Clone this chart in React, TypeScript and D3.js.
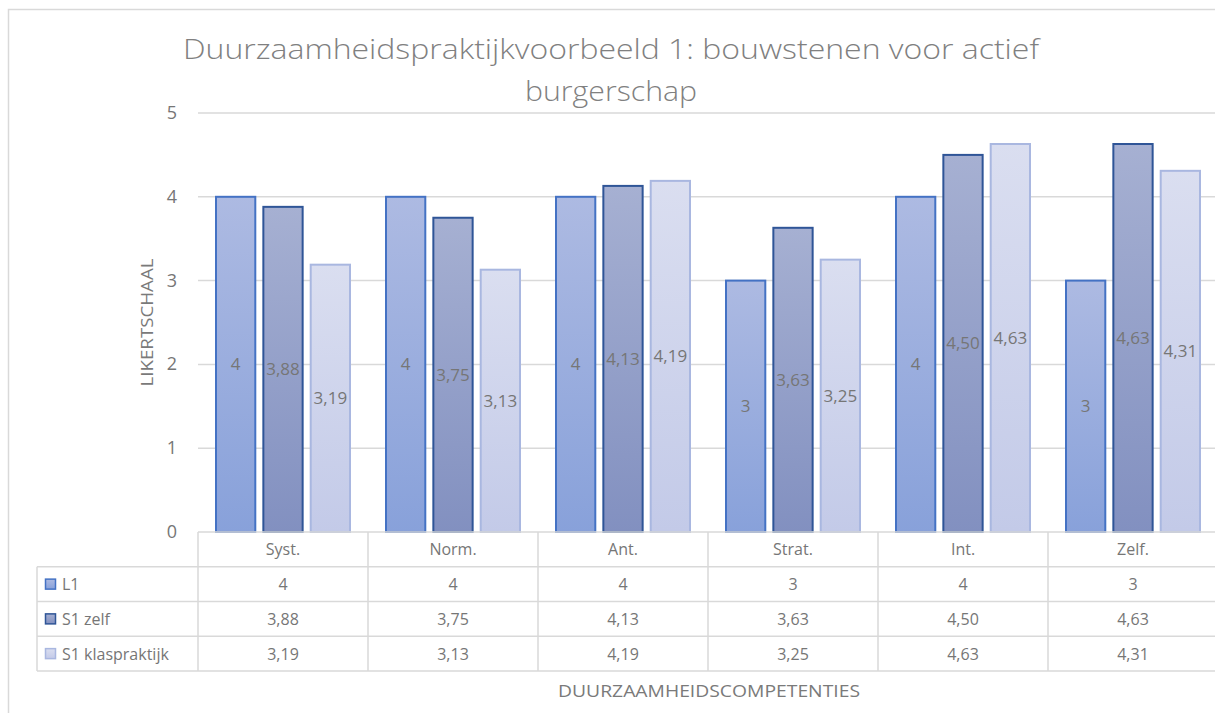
import React from 'react';
import * as d3 from 'd3';

const categories = ['Syst.', 'Norm.', 'Ant.', 'Strat.', 'Int.', 'Zelf.'];
const seriesNames = ['L1', 'S1 zelf', 'S1 klaspraktijk'];
const l1Values = [4, 4, 4, 3, 4, 3];
const s1ZelfValues = [3.88, 3.75, 4.13, 3.63, 4.5, 4.63];
const s1KlasValues = [3.19, 3.13, 4.19, 3.25, 4.63, 4.31];
const yTicks = [0, 1, 2, 3, 4, 5];

const titleLines = ['Duurzaamheidspraktijkvoorbeeld 1: bouwstenen voor actief', 'burgerschap'];
const yTitle = 'LIKERTSCHAAL';
const xTitle = 'DUURZAAMHEIDSCOMPETENTIES';

const seriesStyles = [
  { top: '#adbae2', bottom: '#88a1da', stroke: '#4472c4' },
  { top: '#a6b0d2', bottom: '#8290c0', stroke: '#2f5597' },
  { top: '#dadef0', bottom: '#c3cae8', stroke: '#a9b7e0' },
];

const W = 1215;
const H = 713;
const font = '"Open Sans", "Noto Sans", sans-serif';
const textGray = '#767676';
const gridGray = '#d9d9d9';

export default function App() {
  const series = [l1Values, s1ZelfValues, s1KlasValues];

  const y = d3.scaleLinear().domain([0, 5]).range([532, 113]);
  const x = d3.scaleBand().domain(categories).range([198, 1218]);
  const xSub = d3.scaleBand().domain(seriesNames).range([18, 152]).paddingInner(0.17);

  const rowY = d3.scaleBand().domain(['head', ...seriesNames]).range([532, 671]);
  const tableLeft = 37;
  const plotLeft = 198;
  const right = 1218;

  const fmt = (v: number) =>
    Number.isInteger(v) ? String(v) : v.toFixed(2).replace('.', ',');

  return (
    <svg
      width={W}
      height={H}
      style={{ position: 'absolute', left: 0, top: 0, background: '#fff' }}
      fontFamily={font}
    >
      <defs>
        {seriesStyles.map((s, i) => (
          <linearGradient key={i} id={`grad${i}`} x1="0" y1="0" x2="0" y2="1">
            <stop offset="0" stopColor={s.top} />
            <stop offset="1" stopColor={s.bottom} />
          </linearGradient>
        ))}
      </defs>

      <rect x={8.5} y={9.5} width={W + 20} height={H + 20} fill="#fff" stroke={gridGray} strokeWidth={1.5} />

      {/* title */}
      {titleLines.map((t, i) => (
        <text
          key={i}
          x={611}
          y={59 + i * 42}
          textAnchor="middle"
          fontSize={27}
          fontWeight={300}
          fill="#808080"
          textLength={i === 0 ? 856 : 172}
          lengthAdjust="spacingAndGlyphs"
        >
          {t}
        </text>
      ))}

      {/* gridlines + y ticks */}
      {yTicks.map((t) => (
        <g key={t}>
          {t > 0 && (
            <line x1={plotLeft} x2={right} y1={y(t)} y2={y(t)} stroke={gridGray} strokeWidth={1.5} />
          )}
          <text x={177} y={y(t) + 6} textAnchor="end" fontSize={18} fill={textGray}>
            {t}
          </text>
        </g>
      ))}

      <text
        transform={`translate(153,${(y(0) + y(5)) / 2}) rotate(-90)`}
        textAnchor="middle"
        fontSize={17}
        fill="#7a7a7a"
        textLength={128}
        lengthAdjust="spacingAndGlyphs"
      >
        {yTitle}
      </text>

      {/* bars */}
      {series.map((vals, si) =>
        vals.map((v, ci) => {
          const bx = (x(categories[ci]) ?? 0) + (xSub(seriesNames[si]) ?? 0);
          const bw = xSub.bandwidth();
          const top = y(v);
          return (
            <g key={`${si}-${ci}`}>
              <rect
                x={bx}
                y={top}
                width={bw}
                height={y(0) - top}
                fill={`url(#grad${si})`}
                stroke={seriesStyles[si].stroke}
                strokeWidth={2}
              />
              <text
                x={bx + bw / 2}
                y={(top + y(0)) / 2 + 6}
                textAnchor="middle"
                fontSize={17}
                fill={textGray}
              >
                {fmt(v)}
              </text>
            </g>
          );
        })
      )}

      {/* data table */}
      <g stroke={gridGray} strokeWidth={1.5}>
        <line x1={plotLeft} x2={right} y1={rowY('head')} y2={rowY('head')} />
        {seriesNames.map((s) => (
          <line key={s} x1={tableLeft} x2={right} y1={rowY(s)} y2={rowY(s)} />
        ))}
        <line x1={tableLeft} x2={right} y1={671} y2={671} />
        <line x1={tableLeft} x2={tableLeft} y1={rowY(seriesNames[0])} y2={671} />
        {categories.map((c) => (
          <line key={c} x1={x(c)} x2={x(c)} y1={532} y2={671} />
        ))}
      </g>

      {categories.map((c) => (
        <text
          key={c}
          x={(x(c) ?? 0) + x.bandwidth() / 2}
          y={(rowY('head') ?? 0) + rowY.bandwidth() / 2 + 6}
          textAnchor="middle"
          fontSize={16}
          fill={textGray}
        >
          {c}
        </text>
      ))}

      {seriesNames.map((s, si) => {
        const ry = (rowY(s) ?? 0) + rowY.bandwidth() / 2;
        return (
          <g key={s}>
            <rect
              x={45.5}
              y={ry - 5}
              width={10}
              height={10}
              fill={`url(#grad${si})`}
              stroke={seriesStyles[si].stroke}
              strokeWidth={1.5}
            />
            <text x={62} y={ry + 6} fontSize={16} fill={textGray}>
              {s}
            </text>
            {series[si].map((v, ci) => (
              <text
                key={ci}
                x={(x(categories[ci]) ?? 0) + x.bandwidth() / 2}
                y={ry + 6}
                textAnchor="middle"
                fontSize={16}
                fill={textGray}
              >
                {fmt(v)}
              </text>
            ))}
          </g>
        );
      })}

      <text
        x={709}
        y={697}
        textAnchor="middle"
        fontSize={17}
        fill="#7a7a7a"
        textLength={302}
        lengthAdjust="spacingAndGlyphs"
      >
        {xTitle}
      </text>
    </svg>
  );
}
